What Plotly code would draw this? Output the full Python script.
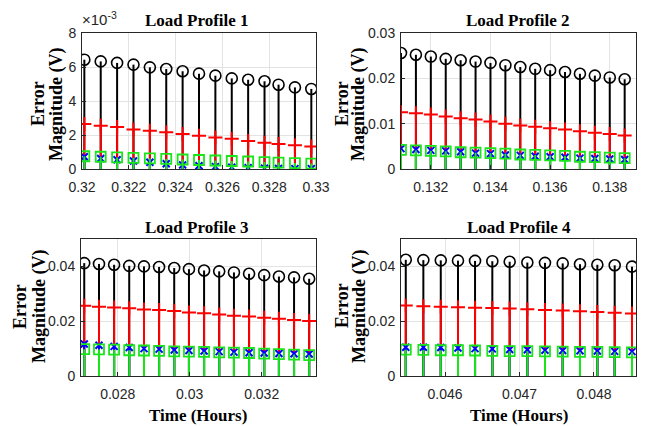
import plotly.graph_objects as go

# ---------------- data ----------------
time_lp1 = [0.3201, 0.3208, 0.3215, 0.3222, 0.3229, 0.3236, 0.3243, 0.3250,
            0.3257, 0.3264, 0.3271, 0.3278, 0.3284, 0.3291, 0.3298]
circ_lp1 = [0.00643, 0.00633, 0.00624, 0.00614, 0.00598, 0.00588, 0.00575, 0.00561,
            0.00549, 0.00533, 0.00525, 0.00516, 0.00496, 0.00480, 0.00471]
plus_lp1 = [0.00265, 0.00255, 0.00247, 0.00233, 0.00225, 0.00216, 0.00206, 0.00196,
            0.00186, 0.00178, 0.00165, 0.00155, 0.00147, 0.00139, 0.00133]
xmk_lp1 = [0.00072, 0.00062, 0.00054, 0.00047, 0.00040, 0.00031, 0.00024, 0.00019,
           0.00014, 0.00010, 0.00007, 0.00004, 0.00003, 0.00002, 0.00002]
sq_lp1 = [0.00075, 0.00072, 0.00068, 0.00065, 0.00062, 0.00059, 0.00056, 0.00053,
          0.00050, 0.00047, 0.00044, 0.00041, 0.00038, 0.00035, 0.00032]

time_lp2 = [0.1310, 0.1315, 0.1320, 0.1325, 0.1330, 0.1335, 0.1340, 0.1345,
            0.1350, 0.1355, 0.1360, 0.1365, 0.1370, 0.1375, 0.1380, 0.1385]
circ_lp2 = [0.0256, 0.0252, 0.0248, 0.0243, 0.0240, 0.0237, 0.0234, 0.0229,
            0.0225, 0.0221, 0.0218, 0.0214, 0.0210, 0.0206, 0.0202, 0.0198]
plus_lp2 = [0.0125, 0.0123, 0.0120, 0.0116, 0.0112, 0.0109, 0.0105, 0.0100,
            0.0096, 0.0093, 0.0090, 0.0087, 0.0083, 0.0080, 0.0077, 0.0074]
xmk_lp2 = [0.0045, 0.0043, 0.0041, 0.0040, 0.0038, 0.0035, 0.0034, 0.0031,
           0.0030, 0.0028, 0.0027, 0.0026, 0.0024, 0.0023, 0.0022, 0.0021]
sq_lp2 = [0.0042, 0.0041, 0.0040, 0.0039, 0.0037, 0.0036, 0.0035, 0.0034,
          0.0032, 0.0031, 0.0030, 0.0029, 0.0027, 0.0026, 0.0025, 0.0024]

time_lp3 = [0.02707, 0.02748, 0.02790, 0.02832, 0.02873, 0.02915, 0.02957, 0.02998,
            0.03040, 0.03082, 0.03123, 0.03165, 0.03207, 0.03248, 0.03290, 0.03332]
circ_lp3 = [0.0412, 0.0409, 0.0406, 0.0402, 0.0400, 0.0398, 0.0394, 0.0390,
            0.0385, 0.0382, 0.0378, 0.0373, 0.0368, 0.0363, 0.0360, 0.0355]
plus_lp3 = [0.0256, 0.0253, 0.0250, 0.0247, 0.0243, 0.0241, 0.0237, 0.0232,
            0.0229, 0.0224, 0.0220, 0.0217, 0.0213, 0.0209, 0.0204, 0.0201]
xmk_lp3 = [0.0117, 0.0112, 0.0108, 0.0104, 0.0100, 0.0098, 0.0095, 0.0093,
           0.0091, 0.0089, 0.0087, 0.0085, 0.0084, 0.0082, 0.0081, 0.0080]
sq_lp3 = [0.0098, 0.0097, 0.0096, 0.0094, 0.0093, 0.0092, 0.0090, 0.0089,
          0.0088, 0.0086, 0.0085, 0.0084, 0.0082, 0.0080, 0.0078, 0.0076]

time_lp4 = [0.045473, 0.045709, 0.045943, 0.046174, 0.046403, 0.046635, 0.046868,
            0.047105, 0.047342, 0.047580, 0.047812, 0.048045, 0.048278, 0.048510]
circ_lp4 = [0.0424, 0.0423, 0.0422, 0.0421, 0.0420, 0.0419, 0.0417,
            0.0414, 0.0413, 0.0411, 0.0408, 0.0406, 0.0404, 0.0399]
plus_lp4 = [0.0257, 0.0255, 0.0253, 0.0251, 0.0249, 0.0248, 0.0246,
            0.0244, 0.0241, 0.0239, 0.0236, 0.0234, 0.0231, 0.0228]
xmk_lp4 = [0.0105, 0.0105, 0.0104, 0.0102, 0.0100, 0.0099, 0.0097,
           0.0096, 0.0094, 0.0093, 0.0092, 0.0091, 0.0090, 0.0089]
sq_lp4 = [0.0096, 0.0095, 0.0094, 0.0094, 0.0093, 0.0092, 0.0091,
          0.0091, 0.0090, 0.0089, 0.0088, 0.0088, 0.0087, 0.0086]

titles = ["Load Profile 1", "Load Profile 2", "Load Profile 3", "Load Profile 4"]
x_ranges = [[0.32, 0.33], [0.131, 0.13888], [0.02698, 0.03351], [0.045409, 0.048564]]
x_ticks = [[0.32, 0.322, 0.324, 0.326, 0.328, 0.33],
           [0.132, 0.134, 0.136, 0.138],
           [0.028, 0.03, 0.032],
           [0.046, 0.047, 0.048]]
x_ticktext = [["0.32", "0.322", "0.324", "0.326", "0.328", "0.33"],
              ["0.132", "0.134", "0.136", "0.138"],
              ["0.028", "0.03", "0.032"],
              ["0.046", "0.047", "0.048"]]
y_ranges = [[0, 0.008], [0, 0.03], [0, 0.05], [0, 0.05]]
y_ticks = [[0, 0.002, 0.004, 0.006, 0.008],
           [0, 0.01, 0.02, 0.03],
           [0, 0.02, 0.04],
           [0, 0.02, 0.04]]
y_ticktext = [["0", "2", "4", "6", "8"],
              ["0", "0.01", "0.02", "0.03"],
              ["0", "0.02", "0.04"],
              ["0", "0.02", "0.04"]]

panels = [
    (time_lp1, circ_lp1, plus_lp1, xmk_lp1, sq_lp1),
    (time_lp2, circ_lp2, plus_lp2, xmk_lp2, sq_lp2),
    (time_lp3, circ_lp3, plus_lp3, xmk_lp3, sq_lp3),
    (time_lp4, circ_lp4, plus_lp4, xmk_lp4, sq_lp4),
]

# ---------------- layout geometry (pixels of the 645x426 page) ----------------
OFF = 8                      # page body margin
W, H = 645 - OFF, 426 - OFF  # figure size so it fits the window
boxes = [(82, 316, 33, 169), (401, 636, 33, 169), (81, 316, 239, 376), (401, 636, 239, 376)]


def px_x(p):
    return (p - OFF) / W


def px_y(p):
    return 1 - (p - OFF) / H


GREEN = "#19e619"
styles = [
    dict(color="black", symbol="circle-open", size=11, lw=1.6),
    dict(color="#ff0000", symbol="cross-thin-open", size=10, lw=2),
    dict(color="#0000ff", symbol="x-thin-open", size=7, lw=2),
    dict(color=GREEN, symbol="square-open", size=10, lw=1.8),
]

fig = go.Figure()
tick_font = dict(family="Liberation Sans, Arial, sans-serif", size=14, color="#262626")
exp_font = dict(family="Liberation Sans, Arial, sans-serif", size=15, color="#262626")
title_font = dict(family="Liberation Serif, Times New Roman, serif", size=17, color="black")
xlabel_font = dict(family="Liberation Serif, Times New Roman, serif", size=17, color="black")
ylabel_font = dict(family="Liberation Serif, Times New Roman, serif", size=18, color="black")

for i, (t, *series) in enumerate(panels):
    xa = "x" if i == 0 else f"x{i+1}"
    ya = "y" if i == 0 else f"y{i+1}"
    for vals, st in zip(series, styles):
        fig.add_trace(go.Scatter(
            x=t, y=vals, xaxis=xa, yaxis=ya, mode="markers",
            marker=dict(symbol=st["symbol"], size=st["size"], color=st["color"],
                        line=dict(color=st["color"], width=st["lw"])),
            error_y=dict(type="data", symmetric=False, array=[0] * len(vals),
                         arrayminus=vals, color=st["color"], thickness=2, width=0),
            showlegend=False, hoverinfo="skip"))

    x0, x1, y0, y1 = boxes[i]
    axis_common = dict(showline=True, mirror=True, linecolor="#262626", linewidth=1,
                       ticks="inside", ticklen=4, tickcolor="#262626",
                       showgrid=True, gridcolor="#e3e3e3", gridwidth=1,
                       zeroline=False, tickfont=tick_font, automargin=False)
    fig.layout[("xaxis" if i == 0 else f"xaxis{i+1}")] = dict(
        domain=[px_x(x0), px_x(x1)], anchor=ya, range=x_ranges[i],
        tickvals=x_ticks[i], ticktext=x_ticktext[i], ticklabelstandoff=5, **axis_common)
    fig.layout[("yaxis" if i == 0 else f"yaxis{i+1}")] = dict(
        domain=[px_y(y1), px_y(y0)], anchor=xa, range=y_ranges[i],
        tickvals=y_ticks[i], ticktext=y_ticktext[i], ticklabelstandoff=2, **axis_common)

annotations = []
title_pos = [(197, 20), (518, 20), (197, 227), (519, 227)]
for (cx, cy), txt in zip(title_pos, titles):
    annotations.append(dict(x=px_x(cx), y=px_y(cy), xref="paper", yref="paper",
                            text=f"<b>{txt}</b>", showarrow=False, font=title_font,
                            xanchor="center", yanchor="middle"))

ylab_pos = [((38, 57), 104), ((342, 359), 104), ((20, 39), 306), ((342, 359), 306)]
for (xe, xm), cy in ylab_pos:
    annotations.append(dict(x=px_x(xe), y=px_y(cy), xref="paper", yref="paper",
                            text="<b>Error</b>", showarrow=False, font=ylabel_font,
                            textangle=-90, xanchor="center", yanchor="middle"))
    annotations.append(dict(x=px_x(xm), y=px_y(cy), xref="paper", yref="paper",
                            text="<b>Magnitude (V)</b>", showarrow=False, font=ylabel_font,
                            textangle=-90, xanchor="center", yanchor="middle"))

for cx in (198, 519):
    annotations.append(dict(x=px_x(cx), y=px_y(415), xref="paper", yref="paper",
                            text="<b>Time (Hours)</b>", showarrow=False, font=xlabel_font,
                            xanchor="center", yanchor="middle"))

annotations.append(dict(x=px_x(80), y=px_y(19), xref="paper", yref="paper",
                        text="×10<sup>-3</sup>", showarrow=False, font=exp_font,
                        xanchor="left", yanchor="middle"))

fig.update_layout(width=W, height=H, margin=dict(l=0, r=0, t=0, b=0, autoexpand=False),
                  paper_bgcolor="white", plot_bgcolor="white",
                  annotations=annotations, showlegend=False)

fig.write_html("out.html")
